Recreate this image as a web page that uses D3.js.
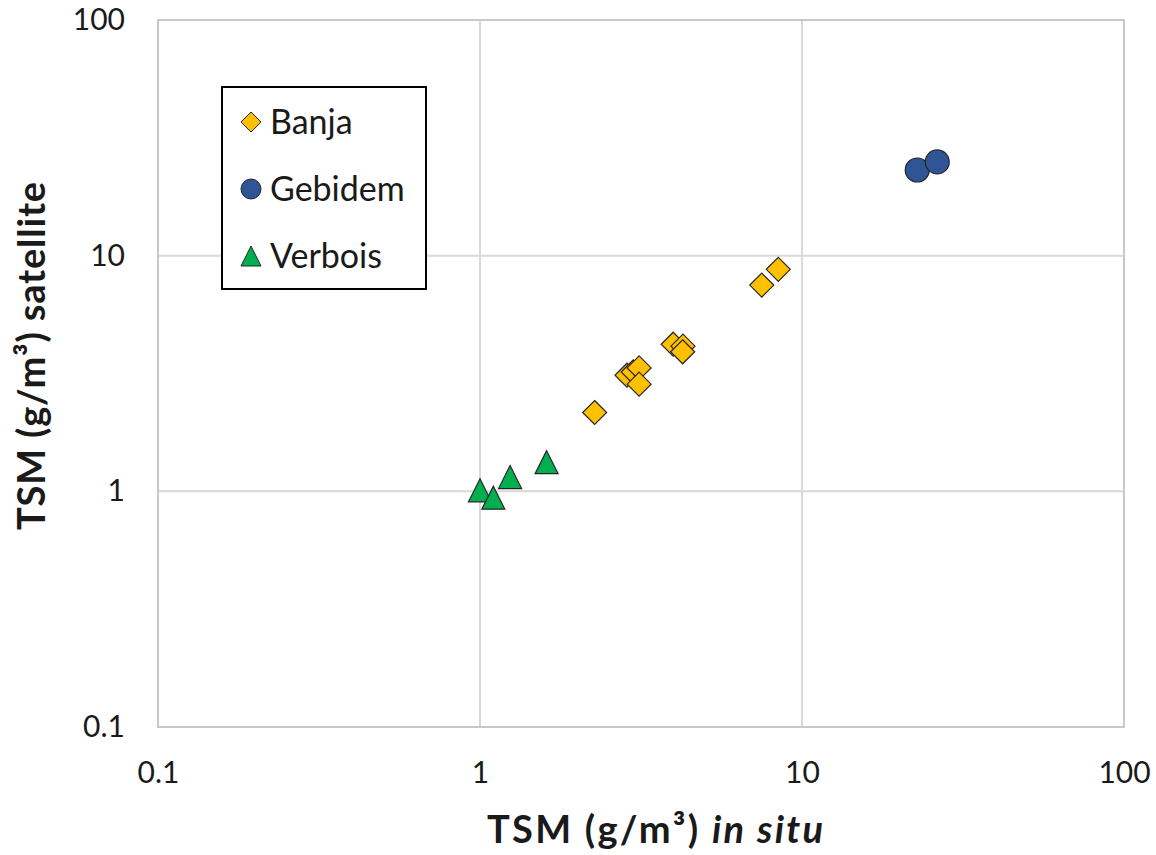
<!DOCTYPE html>
<html>
<head>
<meta charset="utf-8">
<script src="https://cdn.jsdelivr.net/npm/d3@7"></script>
<style>
  body { margin: 0; background: #fff; }
  text { font-family: Lato, "Open Sans", sans-serif; fill: #1a1a1a; }
</style>
</head>
<body>
<div id="chart"></div>
<script>
// data (TSM in situ vs satellite, g/m3)
var banjaX = [2.27, 2.86, 2.99, 3.12, 3.12, 3.98, 4.27, 4.26, 7.50, 8.44];
var banjaY = [2.16, 3.11, 3.21, 3.34, 2.85, 4.21, 4.13, 3.91, 7.50, 8.75];
var gebidemX = [22.8, 26.3];
var gebidemY = [23.1, 25.0];
var verboisX = [1.00, 1.10, 1.24, 1.61];
var verboisY = [1.01, 0.94, 1.15, 1.33];
var seriesNames = ["Banja", "Gebidem", "Verbois"];
var tickValues = [0.1, 1, 10, 100];
var tickLabels = ["0.1", "1", "10", "100"];

var width = 1156, height = 855;
var pLeft = 158, pRight = 1124, pTop = 20, pBottom = 727;

var svg = d3.select("#chart").append("svg")
            .attr("width", width)
            .attr("height", height);

var x = d3.scaleLog().domain([0.1, 100]).range([pLeft, pRight]);
var y = d3.scaleLog().domain([0.1, 100]).range([pBottom, pTop]);

// gridlines
svg.selectAll(".gx")
   .data(tickValues.slice(1, 3))
   .enter()
   .append("line")
   .attr("x1", function(d){ return x(d); })
   .attr("x2", function(d){ return x(d); })
   .attr("y1", pTop)
   .attr("y2", pBottom)
   .attr("stroke", "#d9d9d9")
   .attr("stroke-width", 2);

svg.selectAll(".gy")
   .data(tickValues.slice(1, 3))
   .enter()
   .append("line")
   .attr("y1", function(d){ return y(d); })
   .attr("y2", function(d){ return y(d); })
   .attr("x1", pLeft)
   .attr("x2", pRight)
   .attr("stroke", "#d9d9d9")
   .attr("stroke-width", 2);

svg.append("rect")
   .attr("x", pLeft)
   .attr("y", pTop)
   .attr("width", pRight - pLeft)
   .attr("height", pBottom - pTop)
   .attr("fill", "none")
   .attr("stroke", "#c8c8c8")
   .attr("stroke-width", 2);

// axes, only the labels are kept
var xAxis = d3.axisBottom(x)
              .tickValues(tickValues)
              .tickFormat(function(d, i){ return tickLabels[i]; })
              .tickSize(0)
              .tickPadding(0);
var gx = svg.append("g")
            .attr("transform", "translate(0," + (pBottom + 35) + ")")
            .call(xAxis);
gx.select(".domain").remove();
gx.selectAll("text")
  .attr("font-size", 30)
  .attr("font-family", "Lato")
  .attr("fill", "#1a1a1a");

var yAxis = d3.axisLeft(y)
              .tickValues(tickValues)
              .tickFormat(function(d, i){ return tickLabels[i]; })
              .tickSize(0)
              .tickPadding(0);
var gy = svg.append("g")
            .attr("transform", "translate(125,0)")
            .call(yAxis);
gy.select(".domain").remove();
gy.selectAll("text")
  .attr("font-size", 30)
  .attr("font-family", "Lato")
  .attr("fill", "#1a1a1a");

// marker shapes like the spreadsheet ones
var diamond = {
  draw: function(ctx, r){
    ctx.moveTo(0, -r); ctx.lineTo(r, 0); ctx.lineTo(0, r); ctx.lineTo(-r, 0); ctx.closePath();
  }
};
var triangle = {
  draw: function(ctx, r){
    ctx.moveTo(0, -r); ctx.lineTo(r, r); ctx.lineTo(-r, r); ctx.closePath();
  }
};
var circle = {
  draw: function(ctx, r){
    ctx.moveTo(r, 0); ctx.arc(0, 0, r, 0, 2 * Math.PI);
  }
};

var series = [
  {name: seriesNames[0], xs: banjaX, ys: banjaY, shape: diamond, r: 12, legendR: 10, fill: "#ffc000"},
  {name: seriesNames[1], xs: gebidemX, ys: gebidemY, shape: circle, r: 12, legendR: 10, fill: "#2f5597"},
  {name: seriesNames[2], xs: verboisX, ys: verboisY, shape: triangle, r: 11.5, legendR: 10, fill: "#00b050"}
];

series.forEach(function(s){
  var pts = s.xs.map(function(v, i){ return [v, s.ys[i]]; });
  svg.selectAll(".pt-" + s.name)
     .data(pts)
     .enter()
     .append("path")
     .attr("d", d3.symbol().type(s.shape).size(s.r))
     .attr("transform", function(d){ return "translate(" + x(d[0]) + "," + y(d[1]) + ")"; })
     .attr("fill", s.fill)
     .attr("stroke", "#262626")
     .attr("stroke-width", 1.2);
});

// legend
var legend = svg.append("g");
legend.append("rect")
      .attr("x", 222)
      .attr("y", 87)
      .attr("width", 204)
      .attr("height", 202)
      .attr("fill", "#fff")
      .attr("stroke", "#000")
      .attr("stroke-width", 2);

series.forEach(function(s, i){
  var cy = 122 + i * 67;
  legend.append("path")
        .attr("d", d3.symbol().type(s.shape).size(s.legendR))
        .attr("transform", "translate(251," + cy + ")")
        .attr("fill", s.fill)
        .attr("stroke", "#262626")
        .attr("stroke-width", 1);
  legend.append("text")
        .attr("x", 270)
        .attr("y", cy)
        .attr("dy", "0.36em")
        .attr("font-size", 34)
        .text(s.name);
});

// axis titles
var xt = svg.append("text")
   .attr("x", 655)
   .attr("y", 843)
   .attr("text-anchor", "middle")
   .attr("font-size", 38)
   .attr("font-weight", "bold")
   .attr("textLength", 336)
   .attr("lengthAdjust", "spacing");
xt.append("tspan").text("TSM (g/m³) ");
xt.append("tspan").attr("font-style", "italic").text("in situ");

svg.append("text")
   .attr("transform", "translate(45,356) rotate(-90)")
   .attr("text-anchor", "middle")
   .attr("font-size", 38)
   .attr("font-weight", "bold")
   .attr("textLength", 348)
   .attr("lengthAdjust", "spacing")
   .text("TSM (g/m³) satellite");
</script>
</body>
</html>
